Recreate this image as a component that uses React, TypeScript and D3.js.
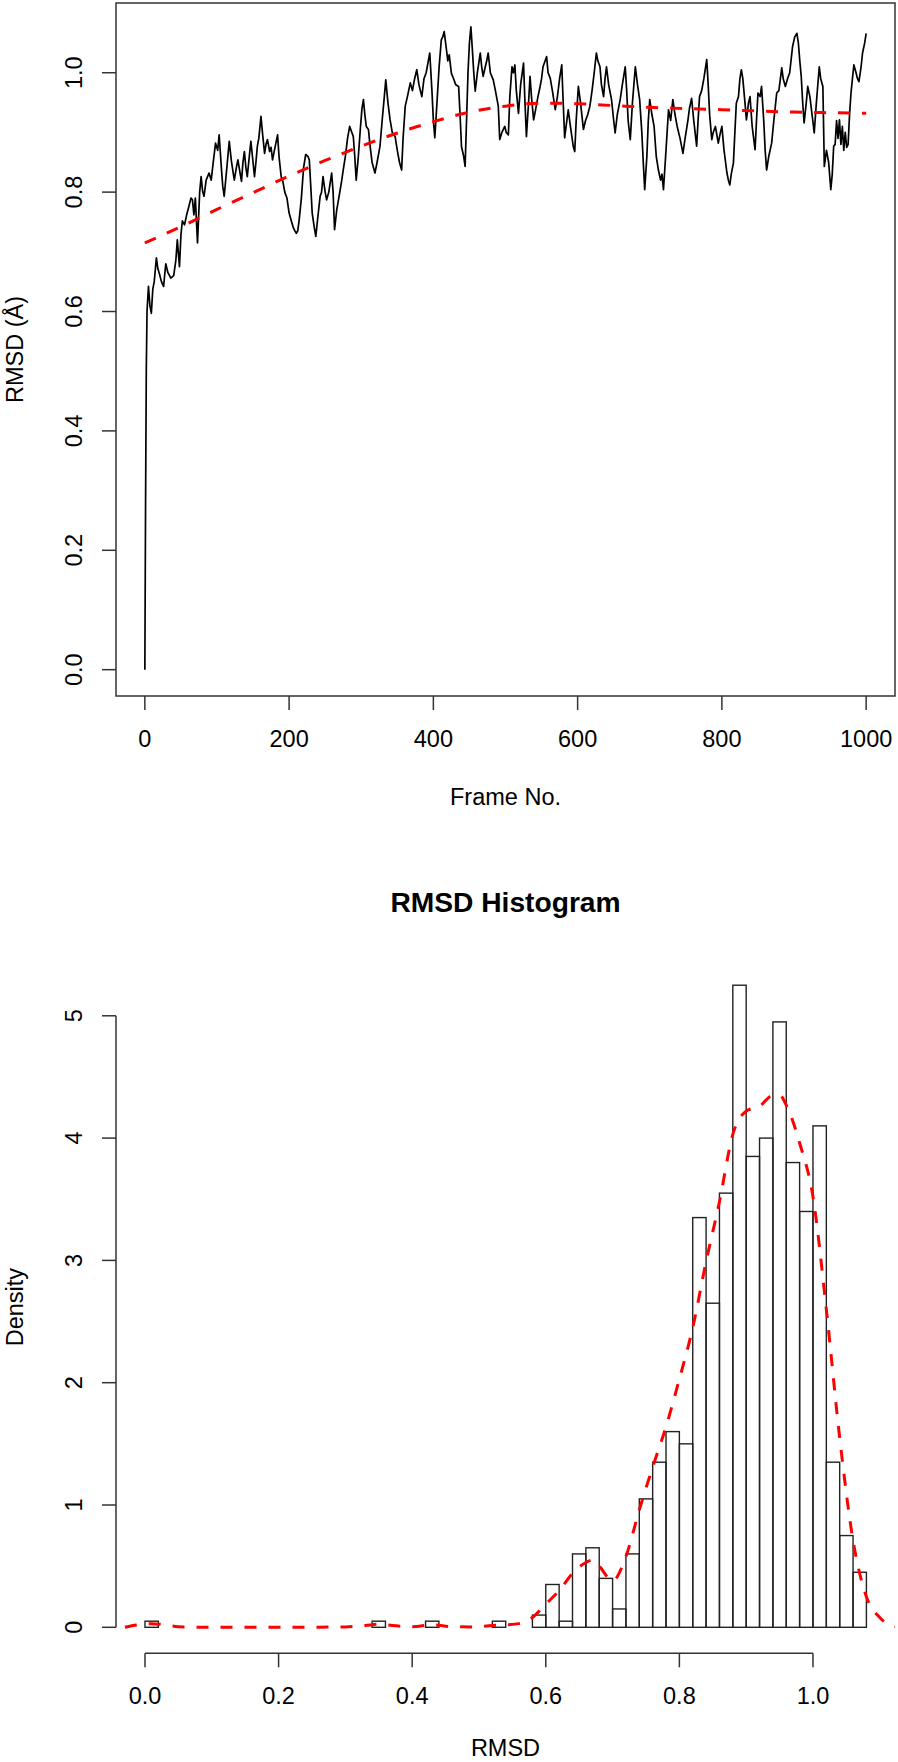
import React, { useEffect } from "react";
import * as d3 from "d3";

// RMSD trace (frame number, RMSD in Å)
const frameNo = [
  0, 1, 2, 3, 5, 7, 9, 11, 13, 16, 18, 20, 23, 26, 29, 32, 36, 40, 43, 45, 48, 50, 52, 55, 58, 61, 64, 66, 68, 70,
  73, 76, 78, 80, 82, 85, 89, 92, 95, 98, 101, 103, 106, 108, 110, 113, 117, 120, 124, 127, 129, 132, 134, 136, 138,
  140, 142, 145, 147, 150, 152, 154, 156, 158, 161, 163, 166, 168, 170, 173, 175, 177, 180, 184, 186, 189, 191, 194,
  197, 200, 203, 206, 208, 210, 212, 214, 217, 220, 223, 226, 228, 230, 232, 235, 237, 240, 243, 245, 247, 250, 252,
  255, 259, 261, 263, 266, 270, 273, 275, 278, 281, 284, 287, 289, 291, 293, 296, 299, 301, 303, 305, 307, 310, 312,
  315, 319, 322, 326, 329, 332, 334, 337, 340, 343, 347, 350, 353, 356, 358, 361, 364, 368, 371, 374, 377, 380, 384,
  387, 390, 393, 395, 398, 400, 402, 405, 408, 411, 413, 415, 418, 420, 422, 425, 428, 431, 435, 437, 439, 442, 444,
  446, 448, 450, 452, 454, 456, 458, 461, 465, 467, 469, 472, 474, 476, 479, 483, 486, 490, 492, 495, 499, 501, 504,
  506, 509, 511, 513, 515, 518, 521, 525, 527, 529, 532, 534, 536, 539, 542, 545, 548, 550, 552, 555, 557, 559, 562,
  565, 569, 572, 575, 578, 580, 582, 584, 587, 590, 594, 596, 598, 601, 604, 608, 611, 614, 617, 620, 623, 626, 628,
  631, 633, 636, 638, 640, 643, 647, 650, 652, 655, 659, 662, 666, 668, 670, 673, 676, 680, 683, 686, 689, 691, 693,
  696, 698, 700, 703, 706, 709, 712, 715, 717, 719, 722, 726, 729, 732, 735, 738, 742, 746, 749, 753, 755, 758, 761,
  765, 767, 769, 772, 775, 779, 781, 783, 786, 788, 791, 795, 798, 800, 803, 807, 809, 811, 813, 816, 818, 820, 823,
  825, 827, 829, 832, 834, 837, 839, 842, 846, 848, 850, 853, 855, 858, 860, 862, 865, 869, 872, 876, 879, 883, 885,
  888, 891, 894, 898, 901, 904, 906, 908, 910, 912, 914, 917, 919, 922, 924, 926, 928, 931, 935, 937, 940, 942, 945,
  948, 951, 953, 955, 957, 959, 961, 963, 965, 967, 969, 971, 973, 975, 977, 979, 981, 983, 986, 988, 990, 993, 995,
  998, 1000,
];
const rmsdValue = [
  0.0, 0.28, 0.5, 0.6, 0.642, 0.61, 0.597, 0.637, 0.65, 0.69, 0.672, 0.664, 0.65, 0.642, 0.68, 0.665, 0.656, 0.66,
  0.686, 0.72, 0.675, 0.728, 0.752, 0.745, 0.762, 0.776, 0.79, 0.787, 0.762, 0.79, 0.715, 0.8, 0.826, 0.802, 0.793,
  0.82, 0.832, 0.82, 0.852, 0.882, 0.87, 0.896, 0.842, 0.81, 0.793, 0.832, 0.885, 0.852, 0.82, 0.842, 0.854, 0.832,
  0.818, 0.85, 0.868, 0.842, 0.826, 0.862, 0.885, 0.85, 0.826, 0.85, 0.877, 0.89, 0.927, 0.9, 0.865, 0.88, 0.888,
  0.868, 0.875, 0.854, 0.872, 0.896, 0.86, 0.826, 0.82, 0.8, 0.79, 0.765, 0.752, 0.74, 0.735, 0.731, 0.735, 0.754,
  0.79, 0.84, 0.863, 0.86, 0.854, 0.81, 0.765, 0.74, 0.726, 0.76, 0.793, 0.8, 0.826, 0.8, 0.787, 0.8, 0.832, 0.8,
  0.737, 0.77, 0.798, 0.82, 0.837, 0.86, 0.89, 0.91, 0.9, 0.893, 0.86, 0.82, 0.86, 0.91, 0.94, 0.955, 0.93, 0.91,
  0.905, 0.88, 0.85, 0.832, 0.85, 0.877, 0.92, 0.96, 0.988, 0.95, 0.921, 0.9, 0.893, 0.87, 0.85, 0.837, 0.89, 0.944,
  0.96, 0.983, 0.97, 0.99, 1.005, 0.98, 0.96, 0.99, 1.0, 1.02, 1.033, 0.97, 0.92, 0.891, 0.95, 1.01, 1.055, 1.06,
  1.069, 1.04, 1.02, 1.03, 0.999, 0.99, 0.98, 0.977, 0.93, 0.876, 0.86, 0.843, 0.92, 1.0, 1.05, 1.077, 1.04, 1.0,
  0.969, 1.0, 1.033, 1.01, 0.994, 1.01, 1.02, 1.033, 1.0, 0.988, 0.97, 0.944, 0.888, 0.9, 0.91, 0.9, 0.896, 0.96,
  1.01, 1.0, 1.013, 0.97, 0.932, 0.98, 1.016, 0.95, 0.893, 0.95, 0.994, 0.96, 0.921, 0.94, 0.96, 0.977, 0.99, 1.01,
  1.02, 1.027, 1.0, 0.991, 0.97, 0.938, 0.96, 0.99, 1.013, 0.95, 0.891, 0.91, 0.938, 0.91, 0.876, 0.868, 0.92, 0.977,
  0.95, 0.905, 0.92, 0.93, 0.944, 0.97, 1.0, 1.033, 1.02, 1.01, 0.98, 0.96, 0.99, 1.01, 0.98, 0.955, 0.92, 0.899,
  0.93, 0.955, 0.98, 1.01, 0.97, 0.92, 0.888, 0.95, 1.01, 0.98, 0.955, 0.9, 0.85, 0.804, 0.86, 0.92, 0.955, 0.93,
  0.91, 0.86, 0.837, 0.82, 0.83, 0.804, 0.86, 0.938, 0.92, 0.955, 0.93, 0.91, 0.89, 0.865, 0.89, 0.921, 0.94, 0.957,
  0.92, 0.877, 0.92, 0.96, 0.97, 0.99, 1.022, 0.98, 0.93, 0.888, 0.9, 0.91, 0.882, 0.9, 0.91, 0.87, 0.832, 0.82,
  0.812, 0.83, 0.849, 0.9, 0.949, 0.96, 0.99, 1.005, 0.99, 0.95, 0.921, 0.95, 0.96, 0.91, 0.871, 0.92, 0.966, 0.96,
  0.977, 0.92, 0.87, 0.837, 0.86, 0.882, 0.92, 0.966, 0.97, 1.008, 0.99, 0.977, 0.99, 1.0, 1.044, 1.06, 1.066, 1.05,
  1.02, 0.994, 0.95, 0.916, 0.95, 0.977, 0.96, 0.94, 0.92, 0.899, 0.95, 1.01, 0.99, 0.977, 0.843, 0.87, 0.85, 0.804,
  0.83, 0.877, 0.88, 0.92, 0.89, 0.921, 0.88, 0.91, 0.87, 0.9, 0.875, 0.88, 0.93, 0.966, 0.99, 1.013, 1.0, 0.99,
  0.985, 1.01, 1.033, 1.05, 1.066,
];

// smoothed trend (red dashed)
const trendFrame = [0, 50, 100, 150, 200, 250, 300, 350, 400, 450, 500, 550, 600, 650, 700, 750, 800, 850, 900, 950, 1000];
const trendValue = [0.715, 0.742, 0.771, 0.799, 0.827, 0.853, 0.877, 0.899, 0.918, 0.934, 0.944, 0.949, 0.948, 0.945, 0.942, 0.94, 0.938, 0.936, 0.934, 0.933, 0.932];

// histogram bins (left edge, width 0.02) and densities
const binStart = [
  0.0, 0.02, 0.04, 0.06, 0.08, 0.1, 0.12, 0.14, 0.16, 0.18, 0.2, 0.22, 0.24, 0.26, 0.28, 0.3, 0.32, 0.34, 0.36, 0.38,
  0.4, 0.42, 0.44, 0.46, 0.48, 0.5, 0.52, 0.54, 0.56, 0.58, 0.6, 0.62, 0.64, 0.66, 0.68, 0.7, 0.72, 0.74, 0.76, 0.78,
  0.8, 0.82, 0.84, 0.86, 0.88, 0.9, 0.92, 0.94, 0.96, 0.98, 1.0, 1.02, 1.04, 1.06,
];
const binDensity = [
  0.05, 0, 0, 0, 0, 0, 0, 0, 0, 0, 0, 0, 0, 0, 0, 0, 0, 0.05, 0, 0,
  0, 0.05, 0, 0, 0, 0, 0.05, 0, 0, 0.1, 0.35, 0.05, 0.6, 0.65, 0.4, 0.15, 0.6, 1.05, 1.35, 1.6,
  1.5, 3.35, 2.65, 3.55, 5.25, 3.85, 4.0, 4.95, 3.8, 3.4, 4.1, 1.35, 0.75, 0.45,
];
const binWidth = 0.02;

// kernel density curve (red dashed)
const densX = [
  -0.03, -0.01, 0.01, 0.03, 0.05, 0.1, 0.2, 0.3, 0.33, 0.35, 0.37, 0.4, 0.43, 0.46, 0.49, 0.52, 0.54, 0.56, 0.58,
  0.6, 0.62, 0.64, 0.66, 0.67, 0.68, 0.7, 0.72, 0.74, 0.76, 0.78, 0.8, 0.82, 0.84, 0.86, 0.88, 0.9, 0.92, 0.94, 0.95,
  0.96, 0.98, 1.0, 1.02, 1.04, 1.06, 1.08, 1.1, 1.12, 1.14,
];
const densY = [
  0.0, 0.02, 0.03, 0.02, 0.005, 0, 0, 0.003, 0.015, 0.025, 0.015, 0.005, 0.02, 0.005, 0.003, 0.015, 0.02, 0.03, 0.08,
  0.19, 0.3, 0.44, 0.53, 0.55, 0.5, 0.38, 0.58, 0.96, 1.31, 1.64, 2.03, 2.45, 2.99, 3.48, 4.03, 4.22, 4.26, 4.35, 4.35,
  4.27, 3.96, 3.52, 2.6, 1.55, 0.71, 0.25, 0.08, 0.01, 0,
];

const frameTicks = [0, 200, 400, 600, 800, 1000];
const rmsdTicks = [0, 0.2, 0.4, 0.6, 0.8, 1.0];
const densityTicks = [0, 1, 2, 3, 4, 5];
const histTicks = [0, 0.2, 0.4, 0.6, 0.8, 1.0];

const FONT = "'Liberation Sans', Arial, Helvetica, sans-serif";
const FS = 23.5;
const TICK = 14;
const AXIS = "#333";

const App = () => {
  useEffect(() => {
    document.body.style.margin = "0";
  }, []);

  const p1 = { left: 116, right: 895, top: 3, bottom: 696 };
  const x1 = d3.scaleLinear().domain([-40, 1040]).range([p1.left, p1.right]);
  const y1 = d3.scaleLinear().domain([-0.0441, 1.1168]).range([p1.bottom, p1.top]);

  const p2 = { left: 116, right: 895, top: 961, bottom: 1653.3 };
  const x2 = d3.scaleLinear().domain([-0.0434, 1.1228]).range([p2.left, p2.right]);
  const y2 = d3.scaleLinear().domain([-0.2126, 5.448]).range([p2.bottom, p2.top]);

  const rmsdPath = d3
    .line<number>()
    .x((d, i) => x1(frameNo[i]))
    .y((d) => y1(d))(rmsdValue);

  const trendPath = d3
    .line<number>()
    .x((d, i) => x1(trendFrame[i]))
    .y((d) => y1(d))
    .curve(d3.curveMonotoneX)(trendValue);

  const densPath = d3
    .line<number>()
    .x((d, i) => x2(densX[i]))
    .y((d) => y2(d))
    .curve(d3.curveMonotoneX)(densY);

  const fmt1 = d3.format(".1f");
  const cx = (p1.left + p1.right) / 2;

  return (
    <svg width={898} height={1762} style={{ display: "block", background: "#fff" }} fontFamily={FONT}>
      <defs>
        <clipPath id="clip1">
          <rect x={p1.left} y={p1.top} width={p1.right - p1.left} height={p1.bottom - p1.top} />
        </clipPath>
        <clipPath id="clip2">
          <rect x={p2.left} y={p2.top} width={p2.right - p2.left} height={p2.bottom - p2.top} />
        </clipPath>
      </defs>

      {/* ---------- RMSD vs frame ---------- */}
      <g clipPath="url(#clip1)">
        <path d={rmsdPath || ""} fill="none" stroke="#000" strokeWidth={1.7} strokeLinejoin="round" />
        <path d={trendPath || ""} fill="none" stroke="#ff0000" strokeWidth={3} strokeDasharray="12 12" />
      </g>
      <rect x={p1.left} y={p1.top} width={p1.right - p1.left} height={p1.bottom - p1.top} fill="none" stroke={AXIS} strokeWidth={1.5} />

      {frameTicks.map((t) => (
        <g key={"fx" + t}>
          <line x1={x1(t)} x2={x1(t)} y1={p1.bottom} y2={p1.bottom + TICK} stroke={AXIS} strokeWidth={1.5} />
          <text x={x1(t)} y={747} fontSize={FS} textAnchor="middle">{t}</text>
        </g>
      ))}
      {rmsdTicks.map((t) => (
        <g key={"ry" + t}>
          <line x1={p1.left - TICK} x2={p1.left} y1={y1(t)} y2={y1(t)} stroke={AXIS} strokeWidth={1.5} />
          <text transform={`translate(82,${y1(t)}) rotate(-90)`} fontSize={FS} textAnchor="middle">{fmt1(t)}</text>
        </g>
      ))}
      <text x={cx} y={805} fontSize={FS} textAnchor="middle">Frame No.</text>
      <text transform={`translate(23.3,${(p1.top + p1.bottom) / 2}) rotate(-90)`} fontSize={FS} textAnchor="middle">RMSD (Å)</text>

      {/* ---------- RMSD histogram ---------- */}
      <text x={cx} y={912.3} fontSize={FS * 1.2} fontWeight="bold" textAnchor="middle">RMSD Histogram</text>

      {binStart.map((b, i) => (
        <rect
          key={"bin" + i}
          x={x2(b)}
          y={y2(binDensity[i])}
          width={x2(b + binWidth) - x2(b)}
          height={y2(0) - y2(binDensity[i])}
          fill="none"
          stroke="#222"
          strokeWidth={1.4}
        />
      ))}
      <g clipPath="url(#clip2)">
        <path d={densPath || ""} fill="none" stroke="#ff0000" strokeWidth={3} strokeDasharray="12 12" />
      </g>

      <line x1={p2.left} x2={p2.left} y1={y2(0)} y2={y2(5)} stroke={AXIS} strokeWidth={1.5} />
      {densityTicks.map((t) => (
        <g key={"dy" + t}>
          <line x1={p2.left - TICK} x2={p2.left} y1={y2(t)} y2={y2(t)} stroke={AXIS} strokeWidth={1.5} />
          <text transform={`translate(82,${y2(t)}) rotate(-90)`} fontSize={FS} textAnchor="middle">{t}</text>
        </g>
      ))}
      <line x1={x2(0)} x2={x2(1)} y1={p2.bottom} y2={p2.bottom} stroke={AXIS} strokeWidth={1.5} />
      {histTicks.map((t) => (
        <g key={"hx" + t}>
          <line x1={x2(t)} x2={x2(t)} y1={p2.bottom} y2={p2.bottom + TICK} stroke={AXIS} strokeWidth={1.5} />
          <text x={x2(t)} y={1704} fontSize={FS} textAnchor="middle">{fmt1(t)}</text>
        </g>
      ))}
      <text x={cx} y={1756} fontSize={FS} textAnchor="middle">RMSD</text>
      <text transform={`translate(23.3,${(p2.top + p2.bottom) / 2}) rotate(-90)`} fontSize={FS} textAnchor="middle">Density</text>
    </svg>
  );
};

export default App;
